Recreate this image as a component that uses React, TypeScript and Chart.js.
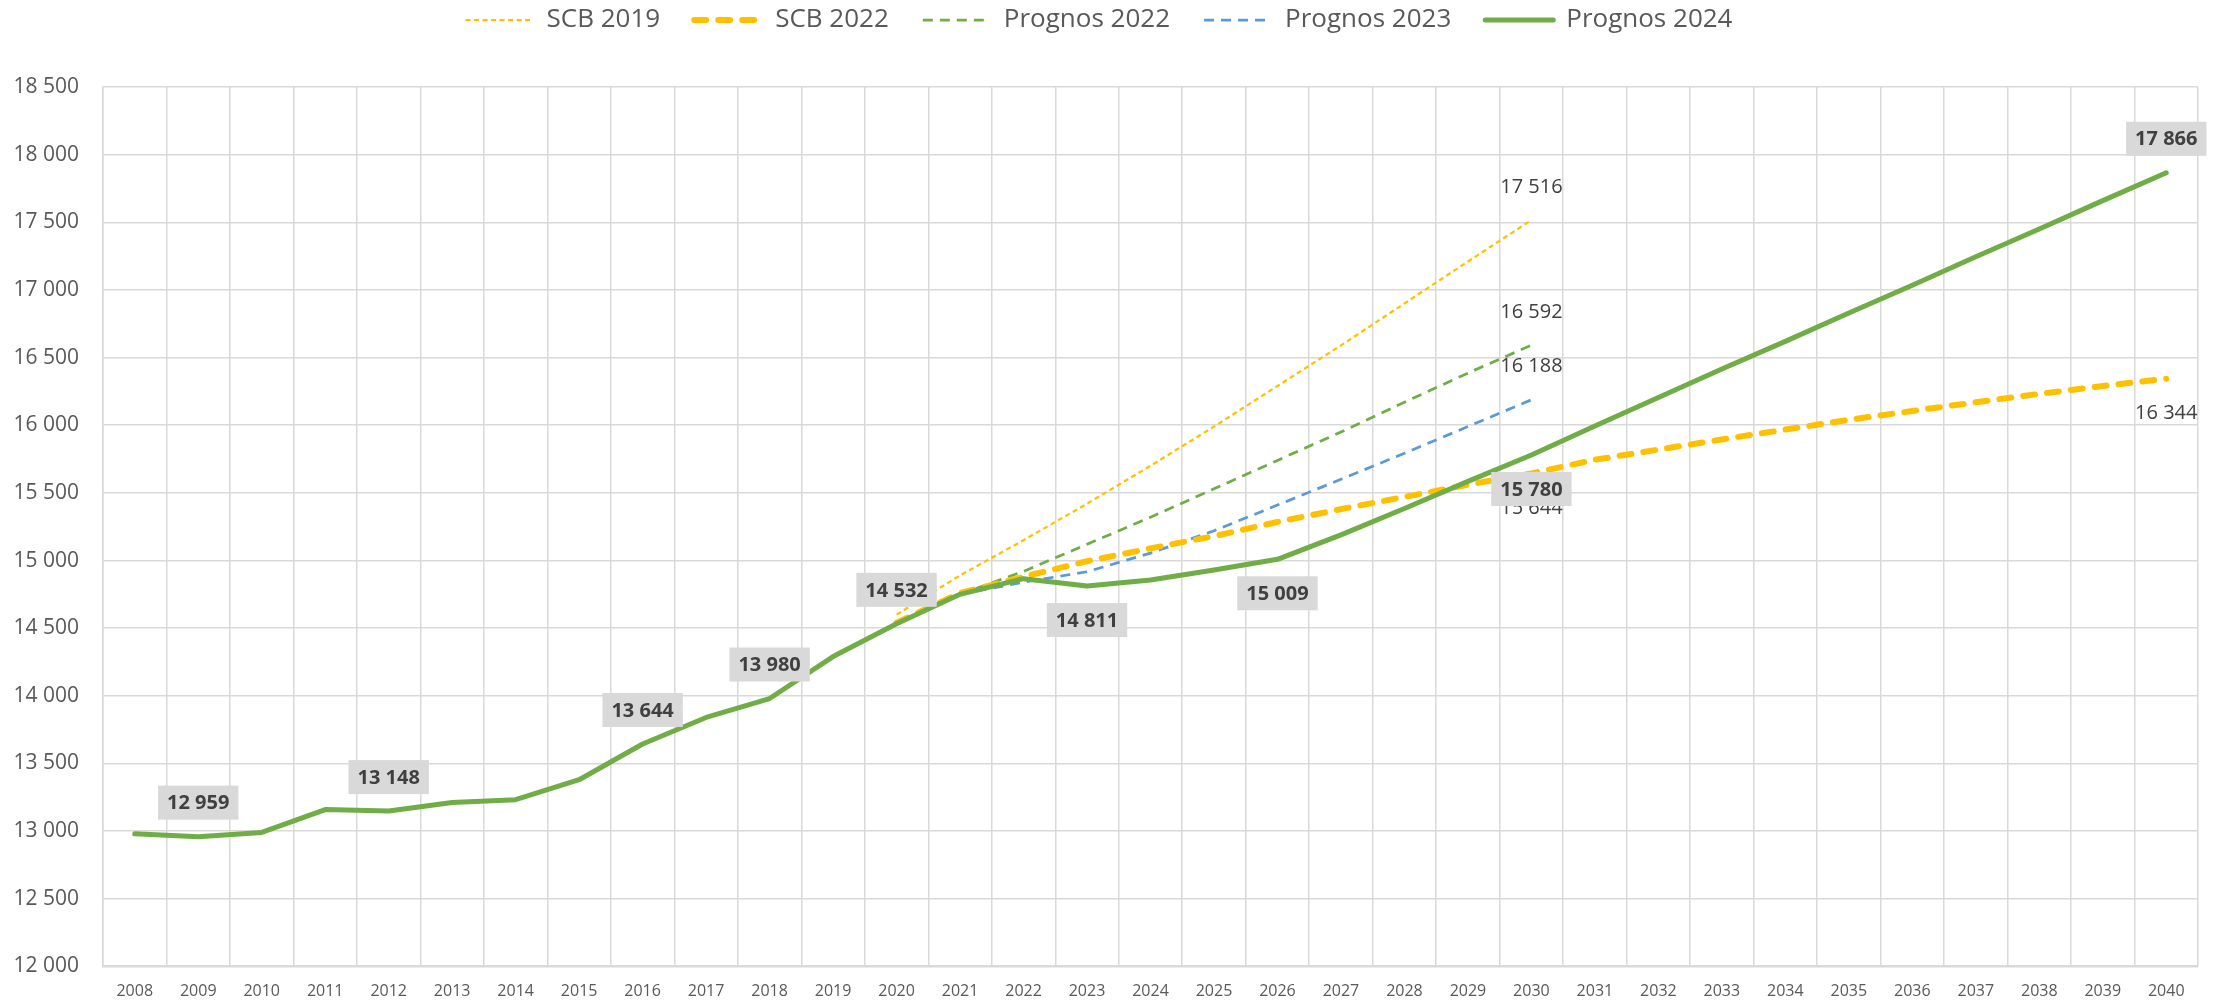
import { useEffect, useRef } from 'react';
import { Chart, registerables } from 'chart.js';

Chart.register(...registerables);

const years = [
  '2008', '2009', '2010', '2011', '2012', '2013', '2014', '2015', '2016', '2017', '2018',
  '2019', '2020', '2021', '2022', '2023', '2024', '2025', '2026', '2027', '2028', '2029',
  '2030', '2031', '2032', '2033', '2034', '2035', '2036', '2037', '2038', '2039', '2040',
];

const N = null;

const scb2019 = [
  N, N, N, N, N, N, N, N, N, N, N, N,
  14600, 14890, 15150, 15420, 15700, 15990, 16290, 16590, 16900, 17210, 17516,
  N, N, N, N, N, N, N, N, N, N,
];

const scb2022 = [
  N, N, N, N, N, N, N, N, N, N, N, N,
  14540, 14760, 14880, 14995, 15090, 15180, 15285, 15380, 15470, 15560, 15644,
  15745, 15820, 15895, 15968, 16040, 16105, 16170, 16232, 16290, 16344,
];

const prognos2022 = [
  N, N, N, N, N, N, N, N, N, N, N, N, N,
  14750, 14920, 15120, 15320, 15530, 15740, 15950, 16170, 16385, 16592,
  N, N, N, N, N, N, N, N, N, N,
];

const prognos2023 = [
  N, N, N, N, N, N, N, N, N, N, N, N, N,
  14750, 14840, 14917, 15055, 15220, 15410, 15600, 15793, 15990, 16188,
  N, N, N, N, N, N, N, N, N, N,
];

const prognos2024 = [
  12980, 12959, 12990, 13159, 13148, 13212, 13232, 13380, 13644, 13840, 13980,
  14290, 14532, 14750, 14866, 14811, 14856, 14930, 15009, 15190, 15385, 15585,
  15780, 15995, 16205, 16415, 16620, 16830, 17035, 17245, 17450, 17660, 17866,
];

const yTicks = { min: 12000, max: 18500, step: 500 };

const fmt = (v: number) => String(Math.round(v)).replace(/\B(?=(\d{3})+(?!\d))/g, ' ');

// which points get a value label: dataset index, year, placement, boxed
const labelSpecs = [
  { ds: 0, year: '2030', pos: 'above', boxed: false },
  { ds: 2, year: '2030', pos: 'above', boxed: false },
  { ds: 3, year: '2030', pos: 'above', boxed: false },
  { ds: 1, year: '2030', pos: 'below', boxed: false },
  { ds: 1, year: '2040', pos: 'below', boxed: false },
  { ds: 4, year: '2009', pos: 'above', boxed: true },
  { ds: 4, year: '2012', pos: 'above', boxed: true },
  { ds: 4, year: '2016', pos: 'above', boxed: true },
  { ds: 4, year: '2018', pos: 'above', boxed: true },
  { ds: 4, year: '2020', pos: 'above', boxed: true },
  { ds: 4, year: '2023', pos: 'below', boxed: true },
  { ds: 4, year: '2026', pos: 'below', boxed: true },
  { ds: 4, year: '2030', pos: 'below', boxed: true },
  { ds: 4, year: '2040', pos: 'above', boxed: true },
];

const FONT = "'Open Sans', 'Liberation Sans', sans-serif";

const valueLabels = {
  id: 'valueLabels',
  afterDatasetsDraw(chart: any) {
    const ctx = chart.ctx;
    const xs = chart.scales.x;
    const ys = chart.scales.y;
    const drawOne = (s: any) => {
      const idx = years.indexOf(s.year);
      const v = chart.data.datasets[s.ds].data[idx];
      if (v == null) return;
      const x = xs.getPixelForValue(idx);
      const y = ys.getPixelForValue(v) + (s.pos === 'above' ? -34 : 34);
      const text = fmt(v);
      ctx.font = (s.boxed ? 'bold ' : '') + '20px ' + FONT;
      ctx.textAlign = 'center';
      ctx.textBaseline = 'middle';
      if (s.boxed) {
        const w = ctx.measureText(text).width + 18;
        ctx.fillStyle = '#D9D9D9';
        ctx.fillRect(x - w / 2, y - 17, w, 34);
      }
      ctx.fillStyle = '#404040';
      ctx.fillText(text, x, y + 1);
    };
    ctx.save();
    labelSpecs.filter((s) => !s.boxed).forEach(drawOne);
    labelSpecs.filter((s) => s.boxed).forEach(drawOne);
    ctx.restore();
  },
};

const legendShift = {
  id: 'legendShift',
  beforeDraw(chart: any) {
    if (chart.legend) chart.legend.top = -27;
  },
};

export default function App() {
  const ref = useRef<HTMLCanvasElement>(null);
  useEffect(() => {
    const canvas = ref.current;
    if (!canvas) return;
    Chart.defaults.font.family = FONT;
    const defaultGen = Chart.defaults.plugins.legend.labels.generateLabels;
    const chart = new Chart(canvas, {
      type: 'line',
      data: {
        labels: years,
        datasets: [
          {
            label: 'SCB 2019',
            data: scb2019,
            borderColor: '#FFC000',
            backgroundColor: '#FFC000',
            borderWidth: 2.25,
            borderDash: [5, 3.5],
            pointRadius: 0,
            order: 1,
          },
          {
            label: 'SCB 2022',
            data: scb2022,
            borderColor: '#FFC000',
            backgroundColor: '#FFC000',
            borderWidth: 6,
            borderDash: [12, 12],
            borderCapStyle: 'round',
            pointRadius: 0,
            order: 1,
          },
          {
            label: 'Prognos 2022',
            data: prognos2022,
            borderColor: '#70AD47',
            backgroundColor: '#70AD47',
            borderWidth: 2.75,
            borderDash: [10, 7],
            pointRadius: 0,
            order: 1,
          },
          {
            label: 'Prognos 2023',
            data: prognos2023,
            borderColor: '#5B9BD5',
            backgroundColor: '#5B9BD5',
            borderWidth: 2.75,
            borderDash: [10, 7],
            pointRadius: 0,
            order: 1,
          },
          {
            label: 'Prognos 2024',
            data: prognos2024,
            borderColor: '#70AD47',
            backgroundColor: '#70AD47',
            borderWidth: 5,
            borderJoinStyle: 'round',
            borderCapStyle: 'round',
            pointRadius: 0,
            order: 0,
          },
        ] as any,
      },
      options: {
        responsive: true,
        maintainAspectRatio: false,
        animation: false,
        devicePixelRatio: 1,
        layout: { padding: { top: 17, right: 26, bottom: 0, left: 0 } },
        plugins: {
          legend: {
            position: 'top',
            labels: {
              usePointStyle: true,
              pointStyle: 'line',
              pointStyleWidth: 68,
              padding: 34,
              color: '#595959',
              font: { size: 26, family: FONT },
              sort: (a: any, b: any) => a.datasetIndex - b.datasetIndex,
              generateLabels: (c: any) => {
                const items = defaultGen(c);
                items.forEach((it: any) => {
                  const ds = c.data.datasets[it.datasetIndex];
                  it.lineDash = ds.borderDash || [];
                  it.lineWidth = ds.borderWidth;
                  it.lineCap = ds.borderCapStyle || 'butt';
                  it.strokeStyle = ds.borderColor;
                });
                return items;
              },
            },
          },
          tooltip: { enabled: false },
        },
        scales: {
          x: {
            offset: true,
            grid: { offset: true, color: '#D9D9D9', lineWidth: 1.5, drawTicks: false },
            border: { color: '#D9D9D9', width: 2 },
            ticks: {
              color: '#595959',
              font: { size: 16, family: FONT },
              padding: 15,
              maxRotation: 0,
              autoSkip: false,
            },
            afterFit: (s: any) => {
              s.height = 36;
            },
          },
          y: {
            min: yTicks.min,
            max: yTicks.max,
            grid: { color: '#D9D9D9', lineWidth: 1.5, drawTicks: false },
            border: { color: '#D9D9D9', width: 1.5 },
            ticks: {
              stepSize: yTicks.step,
              color: '#595959',
              font: { size: 21, family: FONT },
              padding: 24,
              callback: (v: any) => fmt(Number(v)),
            },
            afterFit: (s: any) => {
              s.width = 103;
            },
          },
        },
      },
      plugins: [valueLabels, legendShift],
    });
    return () => chart.destroy();
  }, []);
  return (
    <div style={{ position: 'fixed', left: 0, top: 0, width: 2224, height: 1003, background: '#fff' }}>
      <canvas ref={ref} />
    </div>
  );
}
